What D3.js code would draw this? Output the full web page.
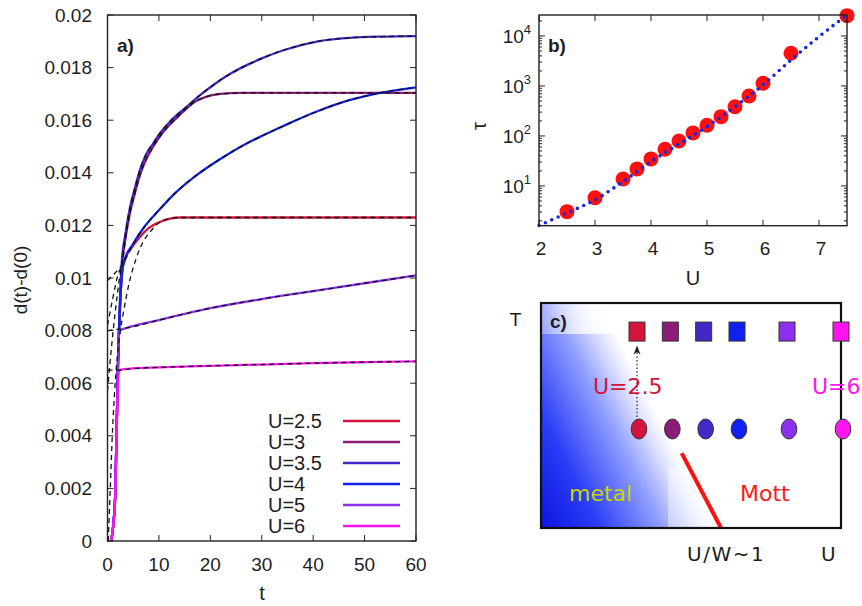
<!DOCTYPE html>
<html>
<head>
<meta charset="utf-8">
<script src="https://cdn.jsdelivr.net/npm/d3@7"></script>
<style>
  body { margin: 0; background: #fff; }
  svg { display: block; }
  text { font-family: "Liberation Sans", Arial, sans-serif; fill: #1e1e1e; }
  .dv { font-family: "DejaVu Sans", Verdana, sans-serif; }
</style>
</head>
<body>
<div id="chart"></div>
<script>
// ---- data ----
var uLabels = ["U=2.5", "U=3", "U=3.5", "U=4", "U=5", "U=6"];
var uValues = [2.5, 3, 3.5, 4, 5, 6];
var uColors = ["#d4143c", "#8c1c78", "#4428c8", "#1020f0", "#8c30f0", "#ff14f0"];

// panel a: d(t)-d(0) vs t. rise = early data, main = data covered by fit, back = fit extended to t=0
var riseU25 = [[0.7, 0], [1.45, 0.0015], [1.75, 0.004], [2.05, 0.0068], [2.5, 0.0092]];
var mainU25 = [[3.1, 0.01055], [4.5, 0.0111], [6.3, 0.01156], [8, 0.0119], [10.2, 0.01213], [12, 0.01225], [14.1, 0.0123], [20, 0.0123], [30, 0.0123], [45, 0.0123], [60, 0.0123]];
var backU25 = [[0.15, 0], [0.5, 0.0018], [1, 0.0043], [1.5, 0.006], [2, 0.0072], [2.5, 0.008], [3.1, 0.0087], [4.2, 0.0098], [5.5, 0.0107], [7, 0.0114], [8.5, 0.0118]];

var riseU3 = [[0.7, 0], [1.45, 0.0015], [1.75, 0.004], [2.05, 0.0068], [2.5, 0.0093]];
var mainU3 = [[2.85, 0.0105], [3.5, 0.0115], [4.4, 0.0125], [5.3, 0.0132], [6.3, 0.0139], [7.5, 0.0145], [8.9, 0.0150], [10, 0.01533], [11.5, 0.0157], [13.5, 0.0161], [15.4, 0.01645], [17, 0.0167], [19, 0.01688], [22, 0.017], [26, 0.01704], [40, 0.01704], [60, 0.01704]];
var backU3 = [[0, 0.0057], [0.5, 0.0068], [1, 0.0078], [1.5, 0.0087], [2, 0.0095], [2.5, 0.0102]];

var riseU35 = [[0.7, 0], [1.45, 0.0015], [1.75, 0.004], [2.05, 0.0068], [2.45, 0.0093]];
var mainU35 = [[2.76, 0.01055], [3.5, 0.0117], [4.4, 0.0127], [5.3, 0.0134], [6.3, 0.0141], [7.5, 0.0147], [8.9, 0.01512], [10, 0.01545], [11.5, 0.01581], [13.5, 0.0162], [15.4, 0.01651], [18, 0.01695], [20.6, 0.01734], [23, 0.01766], [25.8, 0.01797], [27.7, 0.01815], [30, 0.01835], [34.2, 0.01866], [40.7, 0.01899], [47.2, 0.01913], [53.6, 0.01918], [60, 0.0192]];
var backU35 = [[0, 0.0082], [1, 0.0092], [2, 0.0101]];

var riseU4 = [[0.7, 0], [1.45, 0.0015], [1.75, 0.004], [2.05, 0.0068], [2.5, 0.0092], [2.9, 0.0103]];
var mainU4 = [[3.3, 0.01065], [5, 0.0113], [7, 0.0119], [10.2, 0.01262], [13, 0.0132], [16.7, 0.01382], [20, 0.01428], [23.2, 0.01468], [27.7, 0.01518], [30, 0.0154], [34.2, 0.01578], [40.7, 0.01633], [47.2, 0.01677], [53.6, 0.01706], [60, 0.01725]];
var backU4 = [[0, 0.0099], [1, 0.0101], [2, 0.0103]];

var riseU5 = [[0.7, 0], [1.45, 0.0015], [1.75, 0.004], [2.05, 0.0068], [2.4, 0.008]];
var mainU5 = [[3.7, 0.0081], [10, 0.0084], [20, 0.00885], [30, 0.0092], [40, 0.0095], [50, 0.0098], [60, 0.0101]];
var backU5 = [[0, 0.008], [2, 0.00805]];

var riseU6 = [[0.68, 0], [1.45, 0.0015], [1.75, 0.0038], [2.05, 0.006]];
var mainU6 = [[2.3, 0.0065], [5, 0.00656], [10, 0.0066], [20, 0.00666], [30, 0.00671], [40, 0.00676], [50, 0.0068], [60, 0.00683]];
var backU6 = [[0, 0.0065]];

var tTicks = [0, 10, 20, 30, 40, 50, 60];
var dTicks = [0, 0.002, 0.004, 0.006, 0.008, 0.01, 0.012, 0.014, 0.016, 0.018, 0.02];

// panel b: relaxation time tau vs U
var tauU = [2.5, 3, 3.5, 3.75, 4, 4.25, 4.5, 4.75, 5, 5.25, 5.5, 5.75, 6, 6.5, 7.5];
var tauValues = [3.06, 5.8, 13.8, 21.9, 34.7, 54, 79, 115, 164, 243, 385, 630, 1130, 4500, 25500];
var tauFitU = [2, 2.5, 3, 3.5, 4, 4.5, 5, 5.5, 6, 6.5, 7, 7.5];
var tauFitValues = [1.61, 2.88, 5.25, 12.2, 30.6, 69, 153, 385, 1047, 3310, 9690, 26300];
var bUTicks = [2, 3, 4, 5, 6, 7];
var bDecades = [1, 2, 3, 4];

// panel c: schematic phase diagram (T in 0..1)
var tHigh = 0.873;
var tLow = 0.44;
var mottLine = [[3.17, 0.333], [3.76, 0]];

var rises = [riseU25, riseU3, riseU35, riseU4, riseU5, riseU6];
var mains = [mainU25, mainU3, mainU35, mainU4, mainU5, mainU6];
var backs = [backU25, backU3, backU35, backU4, backU5, backU6];

var series = uLabels.map(function(lab, i) {
  var back = backs[i];
  var lastT = back[back.length - 1][0];
  return {
    label: lab,
    color: uColors[i],
    data: rises[i].concat(mains[i]),
    fit: back.concat(mains[i].filter(function(p) { return p[0] > lastT; }))
  };
});

var svg = d3.select("#chart").append("svg")
  .attr("width", 862)
  .attr("height", 606);

var defs = svg.append("defs");

// ================= panel a =================
var ax = d3.scaleLinear().domain([0, 60]).range([107.5, 416]);
var ay = d3.scaleLinear().domain([0, 0.02]).range([541, 15]);

var pa = svg.append("g");

pa.append("clipPath").attr("id", "clipA")
  .append("rect").attr("x", 107.5).attr("y", 15).attr("width", 308.5).attr("height", 526);

var line = d3.line()
  .x(function(d) { return ax(d[0]); })
  .y(function(d) { return ay(d[1]); })
  .curve(d3.curveMonotoneX);

var curves = pa.append("g").attr("clip-path", "url(#clipA)");

series.forEach(function(s) {
  curves.append("path")
    .attr("d", line(s.data))
    .attr("fill", "none")
    .attr("stroke", s.color)
    .attr("stroke-width", 2.3);
});
series.forEach(function(s) {
  curves.append("path")
    .attr("d", line(s.fit))
    .attr("fill", "none")
    .attr("stroke", "#111")
    .attr("stroke-width", 1.3)
    .attr("stroke-dasharray", "5,4");
});

// frame and ticks
pa.append("rect")
  .attr("x", 107.5).attr("y", 15).attr("width", 308.5).attr("height", 526)
  .attr("fill", "none").attr("stroke", "#222").attr("stroke-width", 1.4);

dTicks.forEach(function(v) {
  pa.append("line").attr("x1", 107.5).attr("x2", 113.5).attr("y1", ay(v)).attr("y2", ay(v)).attr("stroke", "#222");
  pa.append("line").attr("x1", 416).attr("x2", 410).attr("y1", ay(v)).attr("y2", ay(v)).attr("stroke", "#222");
  pa.append("text")
    .attr("x", 92).attr("y", ay(v))
    .attr("text-anchor", "end").attr("dominant-baseline", "central")
    .style("font-size", "19px")
    .text(v === 0 ? "0" : d3.format("")(+v.toFixed(3)));
});
tTicks.forEach(function(v) {
  pa.append("line").attr("x1", ax(v)).attr("x2", ax(v)).attr("y1", 541).attr("y2", 535).attr("stroke", "#222");
  pa.append("line").attr("x1", ax(v)).attr("x2", ax(v)).attr("y1", 15).attr("y2", 21).attr("stroke", "#222");
  pa.append("text")
    .attr("x", ax(v)).attr("y", 564)
    .attr("text-anchor", "middle").attr("dominant-baseline", "central")
    .style("font-size", "19px")
    .text(v);
});

pa.append("text")
  .attr("transform", "translate(20,280) rotate(-90)")
  .attr("text-anchor", "middle").attr("dominant-baseline", "central")
  .style("font-size", "19px")
  .text("d(t)-d(0)");
pa.append("text")
  .attr("x", 262).attr("y", 593)
  .attr("text-anchor", "middle").attr("dominant-baseline", "central")
  .style("font-size", "20px")
  .text("t");
pa.append("text")
  .attr("x", 117).attr("y", 45)
  .attr("dominant-baseline", "central")
  .style("font-size", "19px").style("font-weight", "bold")
  .text("a)");

// legend
var legend = pa.selectAll(".leg").data(series).enter().append("g")
  .attr("transform", function(d, i) { return "translate(0," + (421 + i * 21) + ")"; });
legend.append("text")
  .attr("x", 268).attr("y", 0)
  .attr("dominant-baseline", "central")
  .style("font-size", "20px")
  .text(function(d) { return d.label; });
legend.append("line")
  .attr("x1", 343).attr("x2", 400).attr("y1", 0).attr("y2", 0)
  .attr("stroke", function(d) { return d.color; })
  .attr("stroke-width", 2.5);

// ================= panel b =================
var bx = d3.scaleLinear().domain([2, 7.5]).range([539, 847]);
var by = d3.scaleLog().domain([1.6, 26300]).range([225.7, 15]);

var pb = svg.append("g");

var tauPoints = tauU.map(function(u, i) { return [u, tauValues[i]]; });
var tauFit = tauFitU.map(function(u, i) { return [u, tauFitValues[i]]; });

pb.selectAll("circle").data(tauPoints).enter().append("circle")
  .attr("cx", function(d) { return bx(d[0]); })
  .attr("cy", function(d) { return by(d[1]); })
  .attr("r", 7.5)
  .attr("fill", "#ff1010");

pb.append("path")
  .attr("d", d3.line()
    .x(function(d) { return bx(d[0]); })
    .y(function(d) { return by(d[1]); })
    .curve(d3.curveMonotoneX)(tauFit))
  .attr("fill", "none")
  .attr("stroke", "#1428e0")
  .attr("stroke-width", 3.6)
  .attr("stroke-linecap", "round")
  .attr("stroke-dasharray", "0,7");

pb.append("rect")
  .attr("x", 539).attr("y", 15).attr("width", 308).attr("height", 210.7)
  .attr("fill", "none").attr("stroke", "#222").attr("stroke-width", 1.4);

by.ticks().forEach(function(v) {
  var lg = Math.log10(v);
  var major = Math.abs(lg - Math.round(lg)) < 1e-9;
  var len = major ? 6 : 3;
  pb.append("line").attr("x1", 539).attr("x2", 539 + len).attr("y1", by(v)).attr("y2", by(v)).attr("stroke", "#222");
  pb.append("line").attr("x1", 847).attr("x2", 847 - len).attr("y1", by(v)).attr("y2", by(v)).attr("stroke", "#222");
});
bDecades.forEach(function(k) {
  var t = pb.append("text")
    .attr("x", 531).attr("y", by(Math.pow(10, k)) + 7)
    .attr("text-anchor", "end")
    .style("font-size", "19px");
  t.append("tspan").text("10");
  t.append("tspan").attr("dy", -9).style("font-size", "13px").text(k);
});
bUTicks.forEach(function(v) {
  pb.append("line").attr("x1", bx(v)).attr("x2", bx(v)).attr("y1", 225.7).attr("y2", 219.7).attr("stroke", "#222");
  pb.append("line").attr("x1", bx(v)).attr("x2", bx(v)).attr("y1", 15).attr("y2", 21).attr("stroke", "#222");
  pb.append("text")
    .attr("x", bx(v) + 2).attr("y", 248)
    .attr("text-anchor", "middle").attr("dominant-baseline", "central")
    .style("font-size", "19px")
    .text(v);
});
pb.append("text")
  .attr("x", 693).attr("y", 278)
  .attr("text-anchor", "middle").attr("dominant-baseline", "central")
  .style("font-size", "20px")
  .text("U");
pb.append("text")
  .attr("transform", "translate(479,126) rotate(-90)")
  .attr("text-anchor", "middle").attr("dominant-baseline", "central")
  .style("font-size", "20px")
  .text("τ");
pb.append("text")
  .attr("x", 548).attr("y", 45)
  .attr("dominant-baseline", "central")
  .style("font-size", "19px").style("font-weight", "bold")
  .text("b)");

// ================= panel c =================
var cx = d3.scaleLinear().domain([2.5, 4, 5, 6]).range([637, 737, 787, 841]);
var cy = d3.scaleLinear().domain([0, 1]).range([528, 303]);

var grad = defs.append("linearGradient")
  .attr("id", "metalGrad")
  .attr("gradientUnits", "userSpaceOnUse")
  .attr("x1", 572).attr("y1", 600).attr("x2", 715).attr("y2", 528);
[[0, "#0a10e0"], [0.35, "#2a3cf5"], [0.7, "#8e9cff"], [0.9, "#dfe3ff"], [1, "#ffffff"]].forEach(function(s) {
  grad.append("stop").attr("offset", s[0]).attr("stop-color", s[1]);
});
var boxGrad = defs.append("linearGradient").attr("id", "boxGrad");
boxGrad.append("stop").attr("offset", 0).attr("stop-color", "#fff").attr("stop-opacity", 0.3);
boxGrad.append("stop").attr("offset", 0.6).attr("stop-color", "#fff").attr("stop-opacity", 0.85);
boxGrad.append("stop").attr("offset", 1).attr("stop-color", "#fff").attr("stop-opacity", 1);

var pc = svg.append("g");
pc.append("rect")
  .attr("x", 541).attr("y", 303).attr("width", 300).attr("height", 225)
  .attr("fill", "url(#metalGrad)");
pc.append("rect")
  .attr("x", 542).attr("y", 304).attr("width", 79).attr("height", 30)
  .attr("fill", "url(#boxGrad)");
pc.append("rect")
  .attr("x", 668).attr("y", 468).attr("width", 172).attr("height", 59)
  .attr("fill", "#fff").attr("opacity", 0.4);

// Mott boundary
pc.append("line")
  .attr("x1", cx(mottLine[0][0])).attr("y1", cy(mottLine[0][1]))
  .attr("x2", cx(mottLine[1][0])).attr("y2", cy(mottLine[1][1]))
  .attr("stroke", "#ff1010").attr("stroke-width", 4);

pc.append("rect")
  .attr("x", 541).attr("y", 303).attr("width", 300).attr("height", 225)
  .attr("fill", "none").attr("stroke", "#111").attr("stroke-width", 2.2);

// dotted arrow from low T to high T at U=2.5
pc.append("line")
  .attr("x1", cx(2.5)).attr("x2", cx(2.5))
  .attr("y1", cy(tLow) - 12).attr("y2", cy(tHigh) + 19)
  .attr("stroke", "#333").attr("stroke-width", 1.3)
  .attr("stroke-dasharray", "1.5,2.2");
pc.append("path")
  .attr("d", "M" + cx(2.5) + "," + (cy(tHigh) + 14) + " l-3.5,9 l3.5,-2.5 l3.5,2.5 z")
  .attr("fill", "#222");

pc.selectAll(".sq").data(uValues).enter().append("rect")
  .attr("x", function(d) { return cx(d) - 8; })
  .attr("y", cy(tHigh) - 9.5)
  .attr("width", 16).attr("height", 19)
  .attr("fill", function(d, i) { return uColors[i]; })
  .attr("stroke", "#333").attr("stroke-width", 1);
pc.selectAll(".ci").data(uValues).enter().append("ellipse")
  .attr("cx", function(d) { return cx(d) + 2; })
  .attr("cy", cy(tLow))
  .attr("rx", 7.8).attr("ry", 10)
  .attr("fill", function(d, i) { return uColors[i]; })
  .attr("stroke", "#333").attr("stroke-width", 1);

pc.append("text").attr("class", "dv")
  .attr("x", 593).attr("y", 394)
  .style("font-size", "22px").style("fill", uColors[0])
  .text("U=2.5");
pc.append("text").attr("class", "dv")
  .attr("x", 812).attr("y", 394)
  .style("font-size", "22px").style("fill", uColors[5])
  .text("U=6");
pc.append("text").attr("class", "dv")
  .attr("x", 569).attr("y", 501)
  .style("font-size", "22px").style("fill", "#c8d400")
  .text("metal");
pc.append("text").attr("class", "dv")
  .attr("x", 740).attr("y", 501)
  .style("font-size", "22px").style("fill", "#ff1a1a")
  .text("Mott");
pc.append("text").attr("class", "dv")
  .attr("x", 687).attr("y", 561)
  .style("font-size", "20px").style("letter-spacing", "1.5px")
  .text("U/W~1");
pc.append("text").attr("class", "dv")
  .attr("x", 821).attr("y", 561)
  .style("font-size", "20px")
  .text("U");
pc.append("text").attr("class", "dv")
  .attr("x", 510).attr("y", 326)
  .style("font-size", "18px")
  .text("T");
pc.append("text")
  .attr("x", 550).attr("y", 321)
  .attr("dominant-baseline", "central")
  .style("font-size", "19px").style("font-weight", "bold")
  .text("c)");
</script>
</body>
</html>
